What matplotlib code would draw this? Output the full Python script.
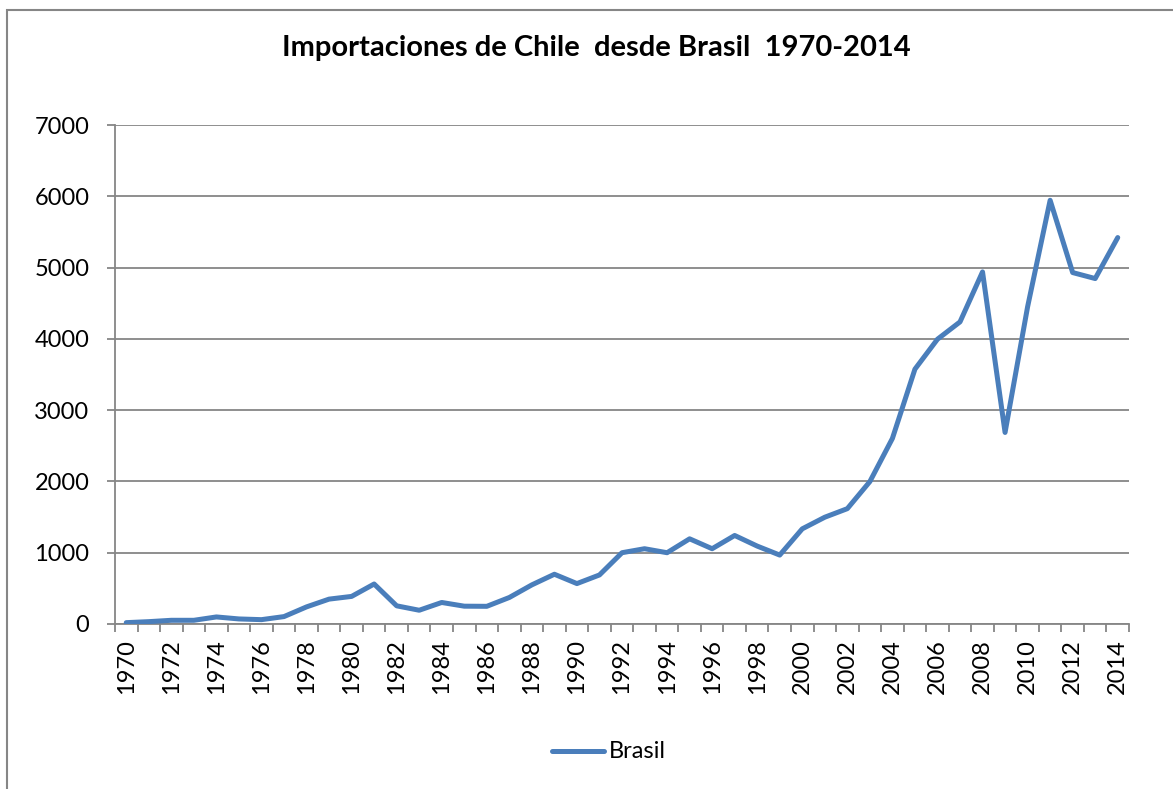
import matplotlib
matplotlib.use("Agg")
import matplotlib.pyplot as plt
from matplotlib.patches import Rectangle
from matplotlib.lines import Line2D

years = list(range(1970, 2015))
brasil = [19, 33, 52, 52, 99, 71, 61, 104, 240, 349,
          387, 561, 255, 193, 302, 250, 248, 372, 549, 698,
          567, 688, 1000, 1056, 1000, 1195, 1056, 1242, 1093, 967,
          1335, 1498, 1618, 1998, 2603, 3575, 3995, 4238, 4939, 2687,
          4450, 5944, 4930, 4846, 5421]
yticks = [0, 1000, 2000, 3000, 4000, 5000, 6000, 7000]
title = "Importaciones de Chile  desde Brasil  1970-2014"
series_name = "Brasil"

plt.rcParams['font.family'] = ['Lato', 'DejaVu Sans']

W, H = 1173, 789
fig = plt.figure(figsize=(W / 100, H / 100), dpi=100)
fig.patch.set_facecolor('white')

# outer chart border
fig.add_artist(Rectangle((7 / W, 0 - 0.01), 1.1, (H - 9.5) / H + 0.01,
                         transform=fig.transFigure, fill=False,
                         edgecolor='#868686', linewidth=1.5))

ax = fig.add_axes([115 / W, 1 - 624 / H, (1129 - 115) / W, (624 - 125) / H])
x = list(range(len(years)))
line_color = '#4A7EBB'
ax.plot(x, brasil, color=line_color, linewidth=3.6, solid_joinstyle='round',
        solid_capstyle='round', zorder=3)

ax.set_xlim(-0.5, len(years) - 0.5)
ax.set_ylim(0, 7000)
ax.set_yticks(yticks)
ax.set_yticklabels([str(v) for v in yticks], fontsize=17)
ax.grid(axis='y', color='#868686', linewidth=1.3)
ax.set_axisbelow(True)

ax.set_xticks(x[::2])
ax.set_xticklabels([str(y) for y in years[::2]], rotation=90, fontsize=17)
ax.set_xticks([i - 0.5 for i in range(len(years) + 1)], minor=True)
ax.tick_params(axis='x', which='major', length=0, pad=11)
ax.tick_params(axis='x', which='minor', length=6, color='#868686', width=1.3,
               direction='out')
ax.tick_params(axis='y', length=6, color='#868686', width=1.3, pad=12.5)

for s in ['top', 'right']:
    ax.spines[s].set_visible(False)
for s in ['left', 'bottom']:
    ax.spines[s].set_color('#868686')
    ax.spines[s].set_linewidth(1.3)

fig.text(596 / W, 1 - 48 / H, title, ha='center', va='center',
         fontsize=21, fontweight='bold')

# legend
fig.add_artist(Line2D([552 / W, 604 / W], [1 - 751 / H, 1 - 751 / H],
                      transform=fig.transFigure, color=line_color,
                      linewidth=3.6, solid_capstyle='round'))
fig.text(609 / W, 1 - 751 / H, series_name, ha='left', va='center',
         fontsize=17)

fig.savefig('out.png', dpi=100)
